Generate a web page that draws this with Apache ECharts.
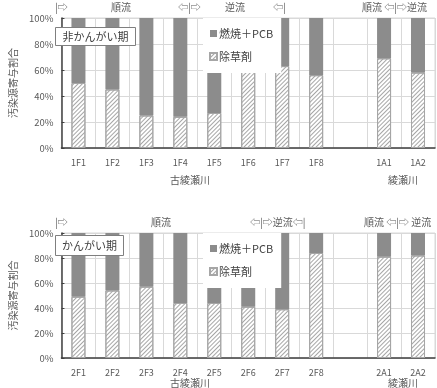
<!DOCTYPE html>
<html>
<head>
<meta charset="utf-8">
<script src="https://cdn.jsdelivr.net/npm/echarts@6/dist/echarts.min.js"></script>
<style>
html, body { margin: 0; background: #fff; }
#chart { width: 437px; height: 388px; }
</style>
</head>
<body>
<div id="chart"></div>
<script>
// 非かんがい期
const sitesDry = ['1F1', '1F2', '1F3', '1F4', '1F5', '1F6', '1F7', '1F8', '', '1A1', '1A2']
const herbDry = [50, 45, 25, 24, 27, 61, 63, 56, null, 69, 58]
const combDry = [50, 55, 75, 76, 73, 39, 37, 44, null, 31, 42]
// かんがい期
const sitesWet = ['2F1', '2F2', '2F3', '2F4', '2F5', '2F6', '2F7', '2F8', '', '2A1', '2A2']
const herbWet = [49, 54, 57, 44, 44, 41, 39, 84, null, 81, 82]
const combWet = [51, 46, 43, 56, 56, 59, 61, 16, null, 19, 18]
const yTicks = [0, 20, 40, 60, 80, 100]

const font = "'Noto Sans CJK JP', 'DejaVu Sans', sans-serif"
const textColor = '#595959'
const axisColor = '#404040'
const gridColor = '#d9d9d9'
const darkBar = '#8c8c8c'

const hatch = {
    color: '#ffffff',
    borderColor: '#a6a6a6',
    borderWidth: 1,
    decal: {
        symbol: 'rect',
        symbolSize: 1,
        dashArrayX: [1, 0],
        dashArrayY: [1, 2],
        rotation: -Math.PI / 4,
        color: '#a6a6a6'
    }
}

function xAxisFor(gridIndex, cats) {
    return {
        type: 'category',
        gridIndex: gridIndex,
        data: cats,
        axisLine: { lineStyle: { color: axisColor, width: 1.5 } },
        axisTick: { inside: true, length: 3, lineStyle: { color: axisColor } },
        axisLabel: { color: textColor, fontSize: 9, fontFamily: font, margin: 10 },
        splitLine: { show: true, interval: 0, lineStyle: { color: gridColor } }
    }
}

function yAxisFor(gridIndex) {
    return {
        type: 'value',
        gridIndex: gridIndex,
        min: yTicks[0],
        max: yTicks[yTicks.length - 1],
        interval: 20,
        name: '汚染源寄与割合',
        nameLocation: 'middle',
        nameGap: 42,
        nameTextStyle: { color: textColor, fontSize: 10, fontFamily: font },
        axisLine: { show: true, lineStyle: { color: axisColor, width: 1.5 } },
        axisTick: { show: true, inside: true, length: 3, lineStyle: { color: axisColor } },
        axisLabel: { color: textColor, fontSize: 9.5, fontFamily: font, margin: 8, formatter: '{value}%' },
        splitLine: { lineStyle: { color: gridColor } }
    }
}

function seriesFor(idx, herb, comb) {
    return [
        {
            name: '除草剤', type: 'bar', xAxisIndex: idx, yAxisIndex: idx, stack: 's' + idx,
            barWidth: 14, data: herb, itemStyle: hatch
        },
        {
            name: '燃焼＋PCB', type: 'bar', xAxisIndex: idx, yAxisIndex: idx, stack: 's' + idx,
            barWidth: 14, data: comb, itemStyle: { color: darkBar }
        }
    ]
}

function legendAt(top) {
    return {
        orient: 'vertical',
        left: 203,
        top: top,
        data: ['燃焼＋PCB', '除草剤'],
        backgroundColor: '#ffffff',
        padding: [10, 8, 11, 6],
        itemGap: 12,
        itemWidth: 7,
        itemHeight: 7,
        icon: 'rect',
        selectedMode: false,
        z: 10,
        textStyle: { color: '#404040', fontSize: 11, fontFamily: font, padding: [0, 0, 0, -3] }
    }
}

function label(x, y, text) {
    return {
        type: 'text', left: x, top: y, z: 100,
        style: { text: text, fill: textColor, font: '10px ' + font }
    }
}

function box(x, y, w, h, text) {
    return {
        type: 'group', left: x, top: y, z: 100,
        children: [
            { type: 'rect', z: 100, shape: { x: 0, y: 0, width: w, height: h }, style: { fill: '#fff', stroke: '#7f7f7f', lineWidth: 1 } },
            { type: 'text', z: 101, style: { x: w / 2, y: h / 2, text: text, fill: '#404040', font: '11px ' + font, align: 'center', verticalAlign: 'middle' } }
        ]
    }
}

const chart = echarts.init(document.getElementById('chart'))
chart.setOption({
    animation: false,
    grid: [
        { left: 48, top: 18, right: 2, height: 130, show: true, borderColor: gridColor, borderWidth: 1 },
        { left: 50, top: 233, right: 2, height: 125, show: true, borderColor: gridColor, borderWidth: 1 }
    ],
    xAxis: [xAxisFor(0, sitesDry), xAxisFor(1, sitesWet)],
    yAxis: [yAxisFor(0), yAxisFor(1)],
    legend: [legendAt(18), legendAt(233)],
    series: seriesFor(0, herbDry, combDry).concat(seriesFor(1, herbWet, combWet)),
    graphic: [
        label(55, 2, '|⇨'),
        label(111, 2, '順流'),
        label(178, 2, '⇦|⇨'),
        label(225, 2, '逆流'),
        label(273, 2, '⇦|'),
        label(362, 2, '順流 ⇦|⇨逆流'),
        label(55, 217, '|⇨'),
        label(151, 217, '順流'),
        label(250, 217, '⇦|⇨逆流⇦|'),
        label(364, 217, '順流 ⇦|⇨ 逆流'),
        label(170, 175, '古綾瀬川'),
        label(388, 175, '綾瀬川'),
        label(170, 378, '古綾瀬川'),
        label(388, 378, '綾瀬川'),
        box(55, 27, 80, 18, '非かんがい期'),
        box(55, 235, 68, 20, 'かんがい期')
    ]
})
</script>
</body>
</html>
